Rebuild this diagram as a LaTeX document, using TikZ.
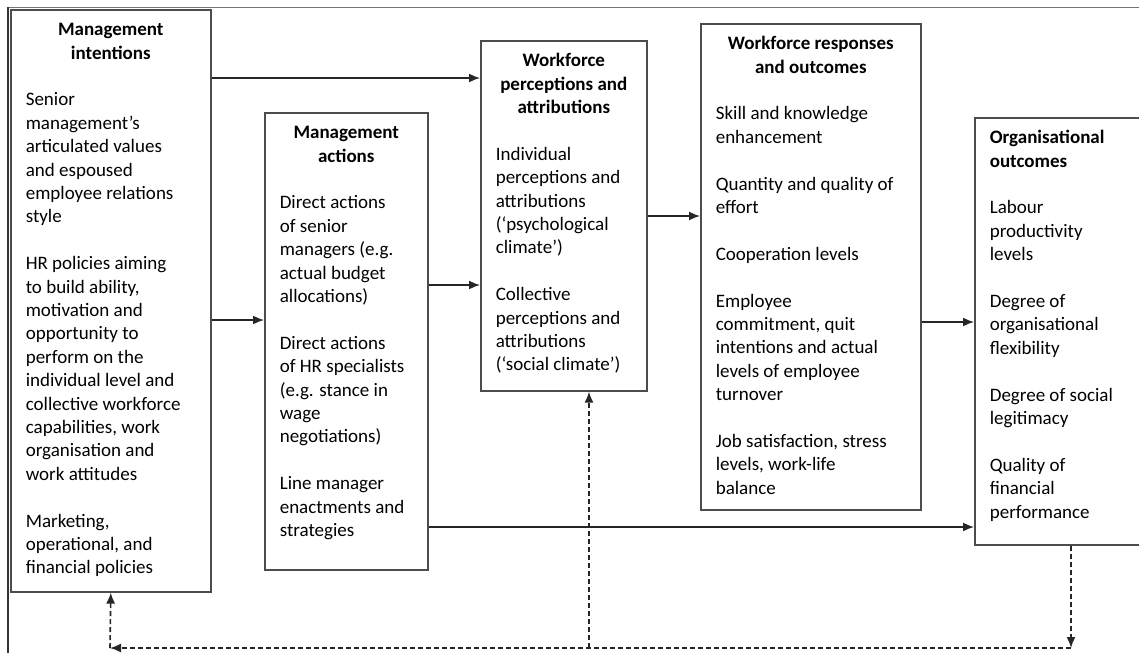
\documentclass[tikz,border=0pt]{standalone}
\usepackage{fontspec}
\setmainfont{Carlito}
\usetikzlibrary{arrows.meta}
\newcommand{\hd}[1]{{\centering\bfseries\strut#1\par}\vspace{\baselineskip}}
\newcommand{\hdl}[1]{{\bfseries\strut#1\par}\vspace{\baselineskip}}
\newcommand{\stagetext}[3]{\parbox[t][#2][t]{#1}{\raggedright\vspace*{9.6pt}#3}}
\begin{document}
\begin{tikzpicture}[x=1pt, y=-1pt,
    stage/.style={draw=black!70, line width=1.6pt, anchor=north west, inner sep=0pt,
        inner xsep=15pt, font=\fontsize{19}{23.4}\selectfont, text=black},
    arr/.style={draw=black!85, line width=1.6pt, -{Latex[length=11pt,width=9pt]}},
    fb/.style={arr, dash pattern=on 5pt off 3pt}]
    \clip (0,0) rectangle (1139,653);
    \fill[white] (0,0) rectangle (1139,653);
    % frame of the figure
    \draw[black!55, line width=1pt] (1139,7) -- (8,7);
    \draw[black!80, line width=1.6pt] (8,7) -- (8,653);
    % the five stages
    \node[stage] (A) at (10,9) {\stagetext{170pt}{582pt}{\hd{Management\\intentions}
        Senior\\management’s\\articulated values\\and espoused\\employee relations\\style\\[\baselineskip]
        HR policies aiming\\to build ability,\\motivation and\\opportunity to\\perform on the\\individual level and\\collective workforce\\capabilities, work\\organisation and\\work attitudes\\[\baselineskip]
        Marketing,\\operational, and\\financial policies}};
    \node[stage] (B) at (264,112) {\stagetext{133pt}{457pt}{\hd{Management\\actions}
        Direct actions\\of senior\\managers (e.g.\\actual budget\\allocations)\\[\baselineskip]
        Direct actions\\of HR specialists\\(e.g. stance in\\wage\\negotiations)\\[\baselineskip]
        Line manager\\enactments and\\strategies}};
    \node[stage] (C) at (480,40) {\stagetext{136pt}{350pt}{\hd{Workforce\\perceptions and\\attributions}
        Individual\\perceptions and\\attributions\\(‘psychological\\climate’)\\[\baselineskip]
        Collective\\perceptions and\\attributions\\(‘social climate’)}};
    \node[stage] (D) at (700,23) {\stagetext{190pt}{486pt}{\hd{Workforce responses\\and outcomes}
        Skill and knowledge\\enhancement\\[\baselineskip]
        Quantity and quality of\\effort\\[\baselineskip]
        Cooperation levels\\[\baselineskip]
        Employee\\commitment, quit\\intentions and actual\\levels of employee\\turnover\\[\baselineskip]
        Job satisfaction, stress\\levels, work-life\\balance}};
    \node[stage] (E) at (974,117) {\stagetext{150pt}{427pt}{\hdl{Organisational\\outcomes}
        Labour\\productivity\\levels\\[\baselineskip]
        Degree of\\organisational\\flexibility\\[\baselineskip]
        Degree of social\\legitimacy\\[\baselineskip]
        Quality of\\financial\\performance}};
    % forward links
    \draw[arr] (A.east |- 0,78) -- (C.west |- 0,78);
    \draw[arr] (A.east |- 0,320) -- (B.west |- 0,320);
    \draw[arr] (B.east |- 0,285) -- (C.west |- 0,285);
    \draw[arr] (C.east |- 0,216) -- (D.west |- 0,216);
    \draw[arr] (D.east |- 0,322) -- (E.west |- 0,322);
    \draw[arr] (B.east |- 0,527) -- (E.west |- 0,527);
    % feedback loop
    \coordinate (fbr) at (1071,648);
    \coordinate (fbm) at (589,648);
    \coordinate (fbl) at (110,648);
    \draw[fb] (E.south -| fbr) -- (fbr);
    \draw[fb] (fbr) -- (fbl);
    \draw[fb] (fbl) -- (A.south);
    \draw[fb] (fbm) -- (C.south -| fbm);
\end{tikzpicture}
\end{document}
